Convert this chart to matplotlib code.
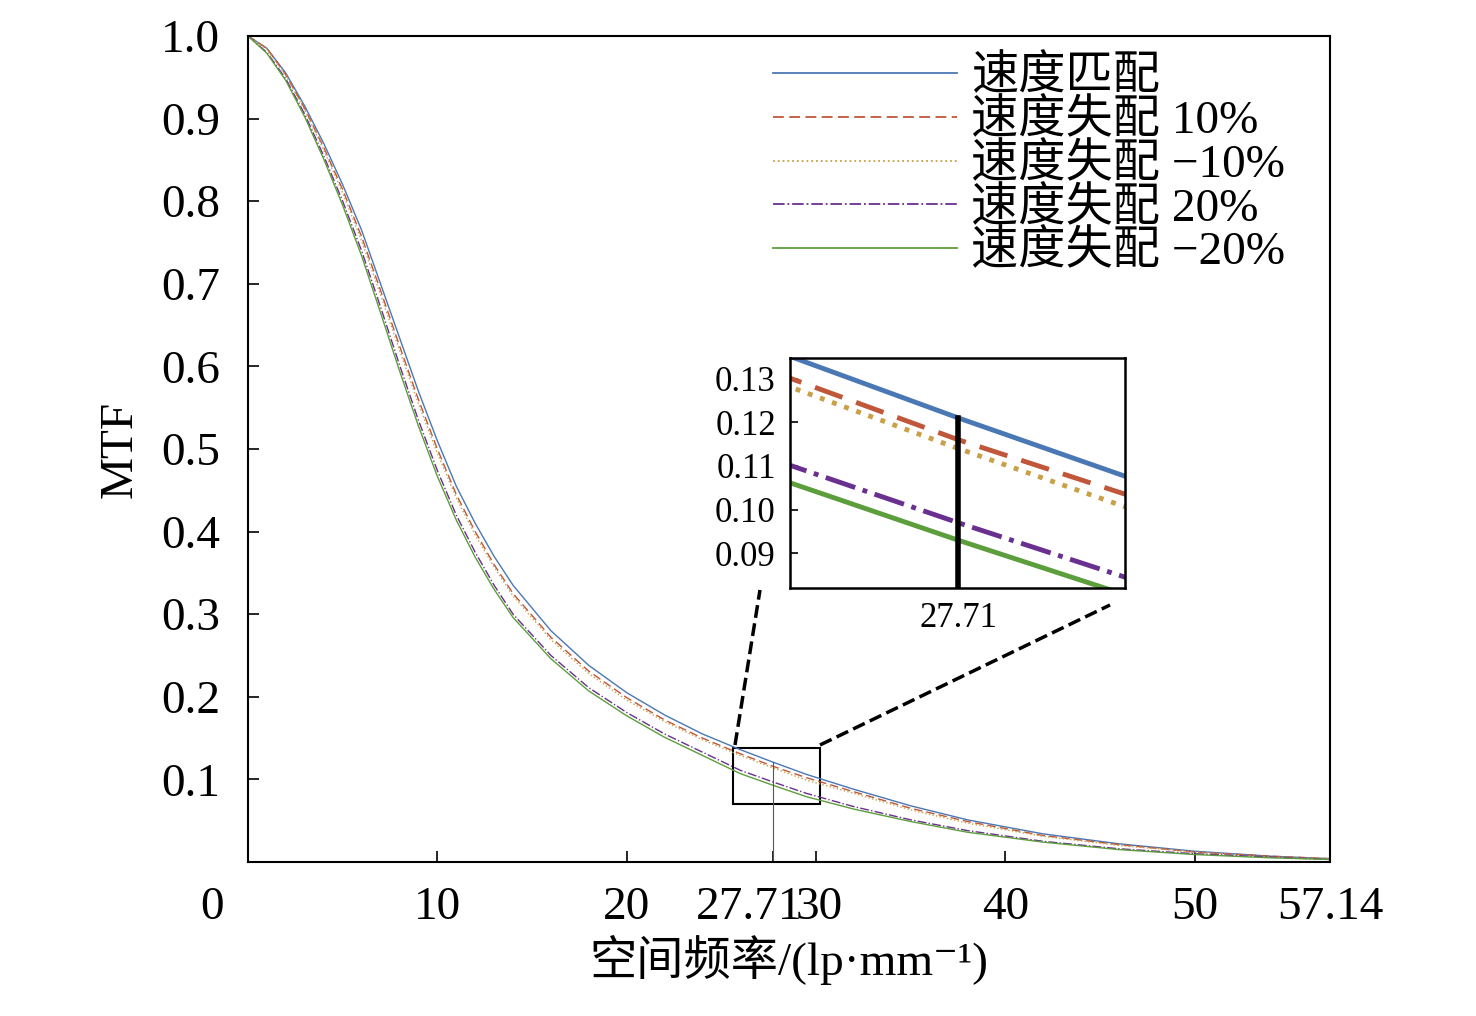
import numpy as np
import matplotlib
matplotlib.use("Agg")
import matplotlib.pyplot as plt
import matplotlib.transforms as mtransforms
from matplotlib.patches import Rectangle
from matplotlib.lines import Line2D

plt.rcParams['font.family'] = ['Liberation Serif', 'Noto Sans CJK SC', 'DejaVu Serif']

freq = [0, 1, 2, 3, 4, 5, 6, 7, 8, 9, 10, 11, 12, 13, 14, 16, 18, 20, 22, 24,
        26, 27.71, 29.5, 32, 35, 38, 42, 46, 50, 54, 57.14]
mtf_match = [1.0, 0.985, 0.955, 0.915, 0.87, 0.82, 0.765, 0.70, 0.635, 0.57, 0.51, 0.455,
             0.41, 0.37, 0.335, 0.28, 0.238, 0.205, 0.178, 0.155, 0.136, 0.121, 0.106,
             0.088, 0.068, 0.051, 0.034, 0.022, 0.013, 0.007, 0.004]
mtf_p10 = [1.0, 0.985, 0.953, 0.912, 0.865, 0.814, 0.757, 0.692, 0.625, 0.56, 0.50, 0.445,
           0.40, 0.36, 0.325, 0.272, 0.231, 0.199, 0.172, 0.150, 0.131, 0.116, 0.102,
           0.085, 0.065, 0.049, 0.032, 0.021, 0.012, 0.007, 0.004]
mtf_m10 = [1.0, 0.984, 0.952, 0.910, 0.862, 0.810, 0.752, 0.687, 0.620, 0.555, 0.495, 0.441,
           0.396, 0.357, 0.322, 0.269, 0.228, 0.196, 0.170, 0.148, 0.129, 0.114, 0.099,
           0.083, 0.063, 0.047, 0.031, 0.020, 0.012, 0.006, 0.004]
mtf_p20 = [1.0, 0.98, 0.948, 0.905, 0.855, 0.80, 0.74, 0.672, 0.602, 0.535, 0.474, 0.42,
           0.375, 0.335, 0.30, 0.25, 0.211, 0.181, 0.155, 0.133, 0.111, 0.097, 0.083,
           0.067, 0.051, 0.038, 0.025, 0.016, 0.010, 0.006, 0.003]
mtf_m20 = [1.0, 0.979, 0.946, 0.902, 0.851, 0.795, 0.734, 0.665, 0.595, 0.528, 0.467, 0.414,
           0.369, 0.330, 0.296, 0.246, 0.207, 0.177, 0.151, 0.129, 0.107, 0.093, 0.079,
           0.064, 0.049, 0.036, 0.024, 0.015, 0.009, 0.005, 0.003]

labels = ['速度匹配', '速度失配 10%', '速度失配 −10%', '速度失配 20%', '速度失配 −20%']
series = [mtf_match, mtf_p10, mtf_m10, mtf_p20, mtf_m20]
colors = ['#4a78b4', '#c0573a', '#c9a048', '#6a3090', '#5c9e3c']
styles = ['-', (0, (6, 3)), ':', '-.', '-']

xticks = [0, 10, 20, 27.71, 30, 40, 50, 57.14]
xticklabels = ['0', '10', '20', '27.71', '30', '40', '50', '57.14']
yticks = [0.1, 0.2, 0.3, 0.4, 0.5, 0.6, 0.7, 0.8, 0.9, 1.0]
mark_x = 27.71

fig = plt.figure(figsize=(14.76, 10.16), dpi=100)
ax = fig.add_axes([0.168, 0.1516, 0.733, 0.813])
for y, lab, c, ls in zip(series, labels, colors, styles):
    ax.plot(freq, y, color=c, ls=ls, lw=1.0, label=lab)
ax.plot([mark_x, mark_x], [0, 0.121], color='#555555', lw=0.8)
ax.set_xlim(0, 57.14)
ax.set_ylim(0, 1.0)
ax.set_xticks(xticks)
ax.set_xticklabels(xticklabels)
ax.set_yticks(yticks)
ax.set_yticklabels([f'{v:.1f}' for v in yticks])
ax.tick_params(direction='in', labelsize=34, length=8, width=1.2)
ax.tick_params(axis='x', pad=18)
ax.tick_params(axis='y', pad=20)
# nudge crowded x labels like the reference
shifts = {'0': -36, '27.71': -24, '30': 3}
for lab in ax.get_xticklabels():
    dx = shifts.get(lab.get_text(), 0)
    if dx:
        lab.set_transform(lab.get_transform() +
                          mtransforms.ScaledTranslation(dx / 100, 0, fig.dpi_scale_trans))
for s in ax.spines.values():
    s.set_linewidth(1.5)
ax.set_xlabel('空间频率/(lp·mm⁻¹)', fontsize=34, labelpad=4)
ax.set_ylabel('MTF', fontsize=34, labelpad=14)
leg = ax.legend(loc='upper right', frameon=False, fontsize=34, handlelength=3.9,
                handletextpad=0.3, labelspacing=0.0, borderaxespad=0.2,
                bbox_to_anchor=(0.985, 1.01))
for h in leg.get_lines():
    h.set_linewidth(1.3)

ax.add_patch(Rectangle((25.61, 0.070), 30.2 - 25.61, 0.068, fill=False,
                       ec='black', lw=1.5))

ins = fig.add_axes([0.535, 0.421, 0.227, 0.227])
for y, c, ls in zip(series, colors, styles):
    ins.plot(freq, y, color=c, ls=ls, lw=3.5)
ins.plot([mark_x, mark_x], [0, 0.121], color='black', lw=4)
ins.set_xlim(26.1, 29.3)
ins.set_ylim(0.082, 0.1348)
ins.set_xticks([mark_x])
ins.set_xticklabels(['27.71'])
ins.set_yticks([0.09, 0.10, 0.11, 0.12, 0.13])
ins.set_yticklabels(['0.09', '0.10', '0.11', '0.12', '0.13'])
ins.tick_params(direction='in', labelsize=25, length=6, width=1.2, pad=10)
for s in ins.spines.values():
    s.set_linewidth(1.8)

W, H = 1476, 1016
def fp(px, py):
    return (px / W, 1 - py / H)
for a, b in [((735, 745), (760, 590)), ((820, 745), (1110, 605))]:
    (x0, y0), (x1, y1) = fp(*a), fp(*b)
    fig.add_artist(Line2D([x0, x1], [y0, y1], transform=fig.transFigure,
                          color='black', ls='--', lw=2.5))

fig.savefig('out.png', dpi=100)
